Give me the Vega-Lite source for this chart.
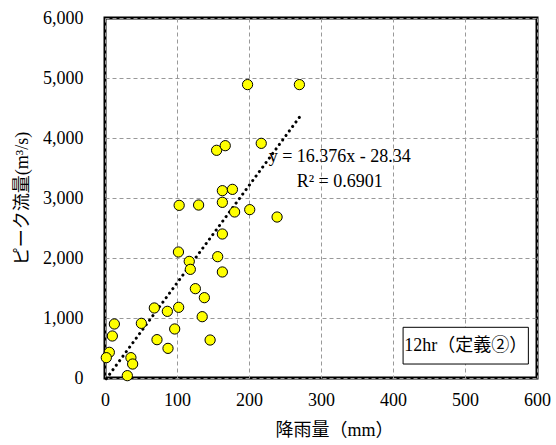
{
  "$schema": "https://vega.github.io/schema/vega-lite/v6.json",
  "width": 432,
  "height": 360,
  "autosize": {"type": "none"},
  "padding": {"left": 105, "top": 18, "right": 19, "bottom": 67},
  "background": "white",
  "config": {
    "font": "Liberation Serif",
    "view": {"stroke": "black", "strokeWidth": 3},
    "axis": {
      "labelFont": "Liberation Serif",
      "labelFontSize": 18,
      "labelColor": "#000",
      "labelFlush": false,
      "titleFont": "Liberation Serif, Noto Sans CJK JP",
      "titleFontSize": 18,
      "titleFontWeight": "normal",
      "titleColor": "#000",
      "ticks": false,
      "domain": false,
      "grid": true,
      "gridColor": "#999999",
      "gridDash": [4, 3],
      "gridWidth": 1
    }
  },
  "datasets": {
    "pts": [
      {"rain": 198, "peak": 4890},
      {"rain": 270, "peak": 4890},
      {"rain": 155, "peak": 3795},
      {"rain": 167, "peak": 3872},
      {"rain": 217, "peak": 3911},
      {"rain": 163, "peak": 3122},
      {"rain": 177, "peak": 3144},
      {"rain": 103, "peak": 2878},
      {"rain": 130, "peak": 2883},
      {"rain": 163, "peak": 2928},
      {"rain": 180, "peak": 2767},
      {"rain": 201, "peak": 2806},
      {"rain": 239, "peak": 2683},
      {"rain": 163, "peak": 2400},
      {"rain": 102, "peak": 2100},
      {"rain": 156.5, "peak": 2022},
      {"rain": 117, "peak": 1944},
      {"rain": 118.5, "peak": 1811},
      {"rain": 163, "peak": 1767},
      {"rain": 125.5, "peak": 1489},
      {"rain": 138, "peak": 1339},
      {"rain": 68.5, "peak": 1167},
      {"rain": 86.6, "peak": 1111},
      {"rain": 102.3, "peak": 1178},
      {"rain": 135, "peak": 1022},
      {"rain": 13, "peak": 900},
      {"rain": 50.5, "peak": 911},
      {"rain": 96.8, "peak": 817},
      {"rain": 10.2, "peak": 700},
      {"rain": 72.2, "peak": 639},
      {"rain": 146, "peak": 633},
      {"rain": 87.5, "peak": 494},
      {"rain": 6, "peak": 428},
      {"rain": 1.8, "peak": 339},
      {"rain": 36, "peak": 339},
      {"rain": 38.4, "peak": 233},
      {"rain": 31, "peak": 39}
    ],
    "notes": [
      {"rain": 326, "peak": 3683, "label": "y = 16.376x - 28.34"},
      {"rain": 326, "peak": 3267, "label": "R² = 0.6901"}
    ],
    "box": [
      {"x1": 414, "x2": 588, "y1": 233, "y2": 845, "xm": 501, "ym": 539, "label": "12hr（定義②）"}
    ]
  },
  "layer": [
    {
      "data": {"name": "pts"},
      "transform": [{"regression": "peak", "on": "rain"}],
      "mark": {"type": "line", "color": "black", "strokeWidth": 3, "strokeDash": [0.1, 5.5], "strokeCap": "round"},
      "encoding": {
        "x": {"field": "rain", "type": "quantitative", "scale": {"domain": [0, 600]},
              "axis": {"title": "降雨量（mm）", "format": "d", "values": [0, 100, 200, 300, 400, 500, 600], "labelPadding": 13, "titleX": 229, "titleY": 52, "titleBaseline": "middle", "titleAlign": "center"}},
        "y": {"field": "peak", "type": "quantitative", "scale": {"domain": [0, 6000]},
              "axis": {"title": "ピーク流量(m³/s)", "format": ",.0f", "values": [0, 1000, 2000, 3000, 4000, 5000, 6000], "labelPadding": 22, "titleX": -83, "titleY": 180, "titleAngle": -90, "titleBaseline": "middle", "titleAlign": "center"}}
      }
    },
    {
      "data": {"name": "pts"},
      "mark": {"type": "point", "shape": "circle", "filled": true, "fill": "#FFFF00", "stroke": "black", "strokeWidth": 1, "size": 105, "opacity": 1},
      "encoding": {
        "x": {"field": "rain", "type": "quantitative"},
        "y": {"field": "peak", "type": "quantitative"}
      }
    },
    {
      "data": {"name": "notes"},
      "mark": {"type": "text", "font": "Liberation Serif", "fontSize": 18, "align": "center", "baseline": "middle", "color": "black"},
      "encoding": {
        "x": {"field": "rain", "type": "quantitative"},
        "y": {"field": "peak", "type": "quantitative"},
        "text": {"field": "label"}
      }
    },
    {
      "data": {"name": "box"},
      "mark": {"type": "rect", "fill": "white", "stroke": "black", "strokeWidth": 1},
      "encoding": {
        "x": {"field": "x1", "type": "quantitative"},
        "x2": {"field": "x2"},
        "y": {"field": "y1", "type": "quantitative"},
        "y2": {"field": "y2"}
      }
    },
    {
      "data": {"name": "box"},
      "mark": {"type": "text", "font": "Liberation Serif, Noto Sans CJK JP", "fontSize": 18, "align": "center", "baseline": "middle", "color": "black"},
      "encoding": {
        "x": {"field": "xm", "type": "quantitative"},
        "y": {"field": "ym", "type": "quantitative"},
        "text": {"field": "label"}
      }
    }
  ]
}
